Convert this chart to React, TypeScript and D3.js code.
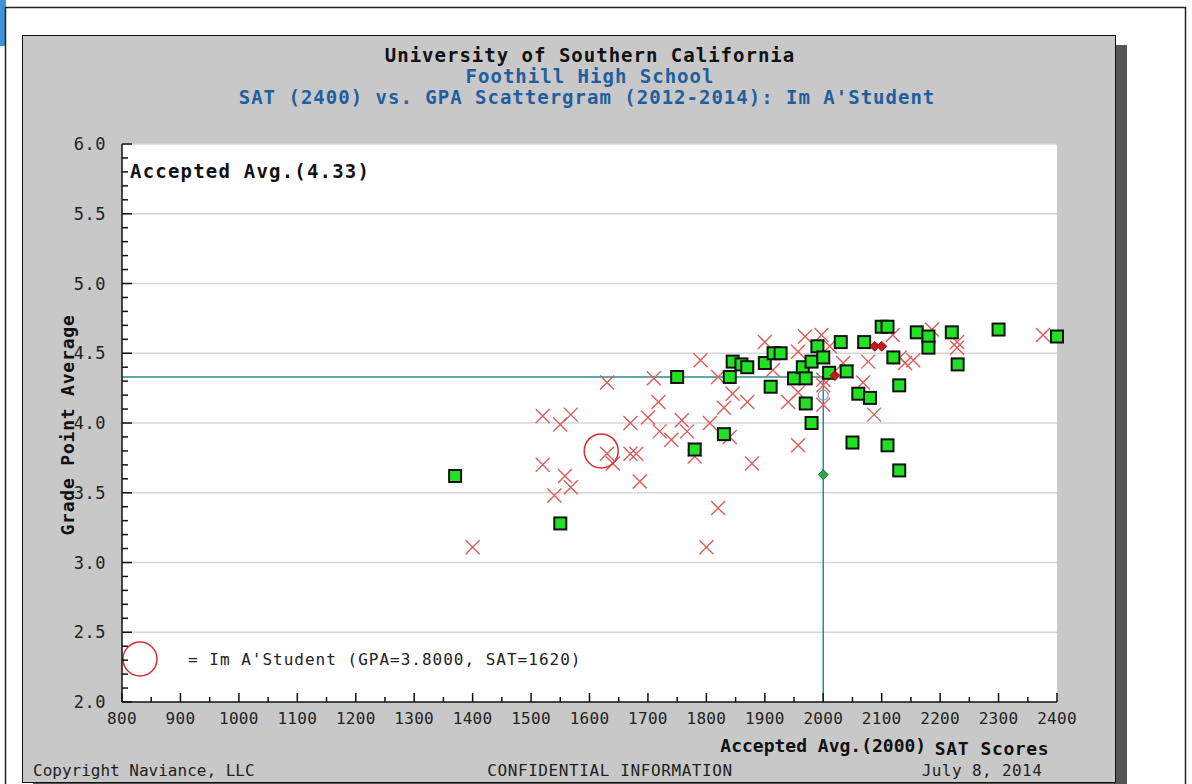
import React from "react";
import * as d3 from "d3";

// [SAT, GPA]
const accepted: [number, number][] = [
  [1370, 3.62], [1550, 3.28], [1750, 4.33], [1780, 3.81], [1830, 3.92],
  [1840, 4.33], [1845, 4.44], [1860, 4.42], [1870, 4.4], [1900, 4.43],
  [1910, 4.26], [1915, 4.5], [1927, 4.5], [1950, 4.32], [1965, 4.4],
  [1970, 4.32], [1970, 4.14], [1980, 4.0], [1980, 4.44], [1990, 4.55],
  [2000, 4.47], [2010, 4.36], [2040, 4.37], [2030, 4.58], [2050, 3.86],
  [2060, 4.21], [2070, 4.58], [2080, 4.18], [2100, 4.69], [2110, 4.69],
  [2110, 3.84], [2120, 4.47], [2130, 4.27], [2130, 3.66], [2160, 4.65],
  [2180, 4.62], [2180, 4.54], [2220, 4.65], [2230, 4.42], [2300, 4.67],
  [2400, 4.62],
];

const denied: [number, number][] = [
  [1400, 3.11], [1520, 4.05], [1520, 3.7], [1540, 3.48], [1550, 3.99],
  [1558, 3.62], [1568, 4.06], [1568, 3.54], [1630, 3.78], [1640, 3.71],
  [1630, 4.29], [1670, 4.0], [1670, 3.78], [1680, 3.78], [1686, 3.58],
  [1700, 4.04], [1710, 4.32], [1718, 4.15], [1720, 3.94], [1740, 3.88],
  [1758, 4.02], [1767, 3.94], [1780, 3.76], [1780, 3.81], [1790, 4.45],
  [1800, 3.11], [1806, 4.0], [1820, 4.33], [1820, 3.39], [1830, 4.11],
  [1840, 3.9], [1845, 4.21], [1870, 4.15], [1878, 3.71], [1900, 4.58],
  [1914, 4.38], [1940, 4.15], [1957, 4.51], [1957, 4.22], [1957, 3.84],
  [1969, 4.62], [1997, 4.63], [2000, 4.47], [2000, 4.31], [2000, 4.27],
  [2000, 4.13], [2011, 4.55], [2034, 4.43], [2040, 4.37], [2068, 4.29],
  [2077, 4.44], [2087, 4.06], [2119, 4.63], [2131, 4.47], [2140, 4.43],
  [2154, 4.45], [2186, 4.67], [2229, 4.58], [2229, 4.54], [2376, 4.63],
];

const earlyAccepted: [number, number][] = [[2020, 4.34], [2088, 4.55], [2100, 4.55]];
const otherMark: [number, number][] = [[2000, 3.63]];
const openMark: [number, number][] = [[2000, 4.2]];

const student: [number, number] = [1620, 3.8];
const acceptedAvgSat = 2000;
const acceptedAvgGpa = 4.33;

const xTicks = d3.range(800, 2401, 100);
const yTicks = [2.0, 2.5, 3.0, 3.5, 4.0, 4.5, 5.0, 5.5, 6.0];

const W = 1192,
  H = 784;
const plot = { left: 122, right: 1057, top: 144, bottom: 702 };
const mono = "'DejaVu Sans Mono', 'Liberation Mono', monospace";

const App: React.FC = () => {
  const x = d3.scaleLinear().domain([800, 2400]).range([plot.left, plot.right]);
  const y = d3.scaleLinear().domain([2, 6]).range([plot.bottom, plot.top]);

  const xMinor = d3.range(850, 2400, 100);
  const yMinor = d3.range(2.1, 6, 0.1).filter((v) => Math.abs(v * 2 - Math.round(v * 2)) > 0.01);

  const cross = (cx: number, cy: number, s = 7) =>
    `M${cx - s},${cy - s}L${cx + s},${cy + s}M${cx - s},${cy + s}L${cx + s},${cy - s}`;
  const diamond = (cx: number, cy: number, s = 5) =>
    `M${cx},${cy - s}L${cx + s},${cy}L${cx},${cy + s}L${cx - s},${cy}Z`;

  return (
    <svg width={W} height={H} style={{ position: "absolute", left: 0, top: 0, background: "#fff" }}>
      {/* outer frame */}
      <rect x={0} y={0} width={6} height={46} fill="#3d92d8" />
      <rect x={5.5} y={7.5} width={1180} height={800} fill="#fff" stroke="#222" strokeWidth={1.5} />
      {/* panel shadow + panel */}
      <rect x={33} y={45} width={1094} height={760} fill="#555" />
      <rect x={22.5} y={35.5} width={1093} height={747} fill="#c8c8c8" stroke="#111" strokeWidth={1} />

      {/* titles */}
      <g fontFamily={mono} fontWeight="bold" fontSize={19} textAnchor="middle" letterSpacing={1}>
        <text x={590} y={62} fill="#111">University of Southern California</text>
        <text x={590} y={83} fill="#1f5f9f">Foothill High School</text>
        <text x={587} y={104} fill="#1f5f9f">SAT (2400) vs. GPA Scattergram (2012-2014): Im A'Student</text>
      </g>

      {/* plot area */}
      <rect x={plot.left} y={plot.top} width={plot.right - plot.left} height={plot.bottom - plot.top} fill="#fff" />
      {yTicks.slice(1).map((t) => (
        <line key={t} x1={plot.left} x2={plot.right} y1={y(t)} y2={y(t)} stroke="#d6d6d6" strokeWidth={1.5} />
      ))}

      {/* accepted average guides */}
      <line x1={plot.left} x2={x(acceptedAvgSat)} y1={y(acceptedAvgGpa)} y2={y(acceptedAvgGpa)} stroke="#2a8c8c" strokeWidth={1.5} />
      <line x1={x(acceptedAvgSat)} x2={x(acceptedAvgSat)} y1={y(acceptedAvgGpa)} y2={plot.bottom} stroke="#2a8c8c" strokeWidth={1.5} />

      {/* marks */}
      <g fill="none" stroke="#e05a5a" strokeWidth={1.4}>
        {denied.map((d, i) => (
          <path key={i} d={cross(x(d[0]), y(d[1]))} />
        ))}
      </g>
      <g fill="#22e022" stroke="#111" strokeWidth={2}>
        {accepted.map((d, i) => (
          <rect key={i} x={x(d[0]) - 6} y={y(d[1]) - 6} width={12} height={12} />
        ))}
      </g>
      {earlyAccepted.map((d, i) => (
        <path key={i} d={diamond(x(d[0]), y(d[1]))} fill="#cc1515" stroke="#7a0a0a" strokeWidth={0.8} />
      ))}
      {otherMark.map((d, i) => (
        <path key={i} d={diamond(x(d[0]), y(d[1]), 5)} fill="#2fa84a" stroke="#1a5a2a" strokeWidth={0.8} />
      ))}
      {openMark.map((d, i) => (
        <circle key={i} cx={x(d[0])} cy={y(d[1])} r={5} fill="none" stroke="#8898b8" strokeWidth={1.2} />
      ))}
      <circle cx={x(student[0])} cy={y(student[1])} r={17} fill="none" stroke="#d83030" strokeWidth={1.5} />

      <text x={130} y={178} fontFamily={mono} fontWeight="bold" fontSize={19} letterSpacing={1.2} fill="#111">
        Accepted Avg.(4.33)
      </text>

      {/* legend */}
      <circle cx={140} cy={659} r={17} fill="none" stroke="#d83030" strokeWidth={1.5} />
      <text x={188} y={665} fontFamily={mono} fontSize={16} letterSpacing={1} fill="#222">
        = Im A'Student (GPA=3.8000, SAT=1620)
      </text>

      {/* axes */}
      <g stroke="#111" strokeWidth={1.5}>
        <line x1={plot.left} x2={plot.left} y1={plot.top} y2={plot.bottom} />
        <line x1={plot.left} x2={plot.right} y1={plot.bottom} y2={plot.bottom} />
        {yTicks.map((t) => (
          <line key={t} x1={plot.left} x2={plot.left + 10} y1={y(t)} y2={y(t)} />
        ))}
        {yMinor.map((t, i) => (
          <line key={i} x1={plot.left} x2={plot.left + 6} y1={y(t)} y2={y(t)} />
        ))}
        {xTicks.map((t) => (
          <line key={t} x1={x(t)} x2={x(t)} y1={plot.bottom} y2={plot.bottom - 9} />
        ))}
        {xMinor.map((t) => (
          <line key={t} x1={x(t)} x2={x(t)} y1={plot.bottom} y2={plot.bottom - 5} />
        ))}
      </g>
      <g fontFamily={mono} fontSize={17} fill="#222">
        {yTicks.map((t) => (
          <text key={t} x={106} y={y(t) + 6} textAnchor="end" letterSpacing={0.5}>
            {t.toFixed(1)}
          </text>
        ))}
        {xTicks.map((t) => (
          <text key={t} x={x(t)} y={724} textAnchor="middle" fontSize={16} letterSpacing={0.3}>
            {t}
          </text>
        ))}
      </g>

      {/* axis titles */}
      <g fontFamily={mono} fontWeight="bold" fontSize={18} fill="#111">
        <text transform={`translate(74,${(plot.top + plot.bottom) / 2 + 2}) rotate(-90)`} textAnchor="middle" letterSpacing={0.8}>
          Grade Point Average
        </text>
        <text x={x(acceptedAvgSat)} y={752} textAnchor="middle">
          Accepted Avg.(2000)
        </text>
        <text x={992} y={755} textAnchor="middle" letterSpacing={0.6}>
          SAT Scores
        </text>
      </g>
      <g fontFamily={mono} fontSize={16} fill="#222">
        <text x={33} y={776}>Copyright Naviance, LLC</text>
        <text x={610} y={776} textAnchor="middle" letterSpacing={0.6}>CONFIDENTIAL INFORMATION</text>
        <text x={982} y={776} textAnchor="middle" letterSpacing={0.4}>July 8, 2014</text>
      </g>
    </svg>
  );
};

export default App;
